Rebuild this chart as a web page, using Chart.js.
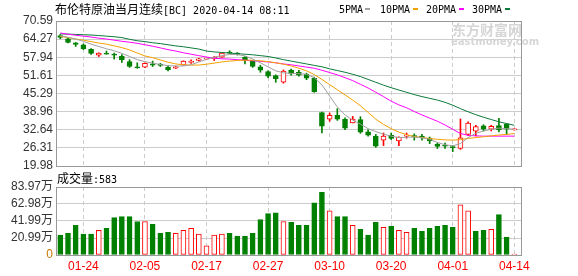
<!DOCTYPE html>
<html>
<head>
<meta charset="utf-8">
<script src="https://cdn.jsdelivr.net/npm/chart.js@4.4.1/dist/chart.umd.min.js"></script>
<style>
body { margin: 0; background: #fff; width: 578px; height: 276px; overflow: hidden; position: relative; font-family: 'Noto Sans CJK SC', sans-serif; }
#price { position: absolute; left: 0; top: 0; }
#volume { position: absolute; left: 0; top: 170px; }
.t { position: absolute; white-space: nowrap; color: #000; font-size: 12px; line-height: 14px; }
.m { font-family: 'DejaVu Sans Mono', monospace; font-size: 10px; }
.lg { position: absolute; top: 8px; width: 5px; height: 2px; }
.wm { position: absolute; white-space: nowrap; color: #d6d6d6; font-weight: bold; }
</style>
</head>
<body>
<canvas id="price" width="578" height="170"></canvas>
<canvas id="volume" width="578" height="106"></canvas>

<div class="t" style="left:55px;top:2px">布伦特原油当月连续<span class="m">[BC] 2020-04-14 08:11</span></div>
<div class="t m" style="left:339px;top:3px">5PMA</div><div class="lg" style="left:365px;background:#a0a0a0"></div>
<div class="t m" style="left:380px;top:3px">10PMA</div><div class="lg" style="left:413px;background:#f5a000"></div>
<div class="t m" style="left:426px;top:3px">20PMA</div><div class="lg" style="left:459px;background:#ff00ff"></div>
<div class="t m" style="left:472px;top:3px">30PMA</div><div class="lg" style="left:505px;background:#0a7a3a"></div>
<div class="wm" style="left:452px;top:21px;font-size:14px;line-height:16px">东方财富网</div>
<div class="wm" style="left:451px;top:37px;font-size:10px;line-height:10px;font-family:'DejaVu Sans',sans-serif">eastmoney.com</div>
<div class="t" style="left:57px;top:171px">成交量<span class="m">:583</span></div>

<script>
// 交易日
const dates = ['01-21','01-22','01-23','01-24','01-27','01-28','01-29','01-30','01-31','02-03',
  '02-04','02-05','02-06','02-07','02-10','02-11','02-12','02-13','02-14','02-17',
  '02-18','02-19','02-20','02-21','02-24','02-25','02-26','02-27','02-28','03-02',
  '03-03','03-04','03-05','03-06','03-09','03-10','03-11','03-12','03-13','03-16',
  '03-17','03-18','03-19','03-20','03-23','03-24','03-25','03-26','03-27','03-30',
  '03-31','04-01','04-02','04-03','04-06','04-07','04-08','04-09','04-13','04-14'];

// K线
const opens = [65.5,64.4,63.0,62.3,60.7,58.7,59.3,58.9,58.3,56.4,
  54.6,54.5,55.6,55.4,54.5,54.1,55.2,56.1,56.8,57.3,
  57.4,58.0,59.6,59.4,58.0,56.5,54.6,52.9,51.5,49.2,
  53.5,52.7,52.0,50.6,38.6,36.3,37.7,36.3,35.0,36.2,
  31.9,30.4,29.0,30.7,28.7,30.4,30.6,30.4,29.7,27.5,
  27.2,26.8,26.1,31.0,32.1,34.0,32.8,34.1,34.6,32.6];
const closes = [64.9,63.1,62.4,60.9,59.3,59.4,59.0,58.7,57.1,54.7,
  54.2,55.8,55.2,55.1,53.6,54.6,56.6,56.6,57.4,57.5,
  57.9,59.4,59.4,58.9,56.8,54.7,53.4,51.3,50.5,53.1,
  52.1,51.7,50.6,45.9,33.9,37.7,36.3,33.2,36.4,31.8,
  30.7,26.9,30.4,29.6,30.1,30.8,30.1,29.9,28.7,26.8,
  26.9,26.3,29.8,35.0,33.7,32.8,33.8,32.7,32.8,32.8];
const highs = [65.9,64.6,63.1,62.6,61.0,59.5,60.1,59.4,58.9,57.1,
  56.0,56.0,56.6,55.8,54.9,54.8,56.7,57.0,57.6,57.7,
  58.2,59.5,60.2,59.6,58.2,56.8,55.1,53.2,51.8,53.5,
  53.8,53.4,52.4,51.0,38.8,38.5,40.0,36.8,37.3,37.2,
  32.6,31.0,31.5,31.5,30.2,31.5,31.2,31.0,30.1,28.0,
  28.0,27.1,36.4,35.4,34.2,34.4,34.2,36.6,34.7,33.0];
const lows = [64.4,62.9,61.7,60.6,58.9,58.2,59.0,57.3,56.1,54.4,
  54.1,54.3,54.7,54.7,53.2,54.0,55.2,55.8,56.6,57.2,
  56.8,57.9,59.3,58.7,55.6,54.4,52.7,50.8,49.2,48.9,
  51.7,51.3,50.1,45.7,31.5,35.6,35.9,32.7,35.0,31.4,
  30.4,26.5,27.1,29.2,27.1,29.7,29.0,29.0,27.8,26.1,
  26.1,25.0,25.8,30.6,30.5,32.2,32.2,31.9,31.0,32.5];

// 均线
const ma5 = [65.5,64.9,64.3,63.5,62.5,61.7,60.9,60.2,59.3,58.2,
  57.1,56.4,55.9,55.4,55.0,54.9,54.9,55.3,56.3,57.2,
  58.0,58.5,58.9,58.9,58.4,57.3,56.0,54.6,53.2,52.5,
  52.3,52.2,52.0,50.8,48.3,44.4,40.6,37.8,36.0,34.6,
  33.0,32.0,31.1,30.4,29.9,30.0,30.1,29.8,29.3,28.2,
  27.4,27.0,27.8,29.9,31.4,32.2,32.8,33.2,33.0,32.8];
const ma10 = [65.2,64.8,64.3,63.9,63.4,62.9,62.5,61.9,61.3,60.5,
  59.4,58.4,57.8,57.0,56.2,55.6,55.3,55.2,55.2,55.5,
  55.9,56.3,56.6,56.8,56.9,56.9,56.7,56.4,56.0,55.5,
  54.9,54.1,53.2,51.9,50.2,48.4,46.6,44.8,43.0,41.0,
  38.7,36.3,34.5,33.0,31.8,30.9,30.3,29.9,29.6,29.3,
  29.1,29.0,29.2,29.6,29.9,30.2,30.5,30.8,31.0,31.3];
const ma20 = [66.4,66.0,65.6,65.3,65.0,64.6,64.3,63.9,63.5,63.2,
  62.8,62.3,61.8,61.2,60.6,60.1,59.5,59.0,58.5,58.0,
  57.6,57.4,57.3,57.1,56.9,56.7,56.5,56.3,56.0,55.6,
  55.3,54.9,54.5,54.1,53.4,52.6,51.8,50.8,49.8,48.5,
  47.2,45.7,44.2,42.6,41.3,40.3,39.0,37.8,36.7,35.6,
  34.3,32.8,31.3,30.7,30.5,30.4,30.4,30.4,30.4,30.4];
const ma30 = [66.1,66.0,65.9,65.8,65.7,65.5,65.3,65.1,64.8,64.2,
  63.7,63.4,63.0,62.7,62.3,61.9,61.6,61.2,60.8,60.1,
  59.8,59.6,59.4,59.2,59.0,58.8,58.5,58.2,57.7,57.1,
  56.6,56.1,55.6,55.1,54.6,53.9,53.3,52.7,52.0,51.2,
  50.2,49.2,48.2,47.3,46.5,45.7,44.9,44.2,43.6,43.0,
  42.2,41.2,40.0,38.9,37.9,37.0,36.2,35.4,34.8,34.2];

// 成交量(万)
const vols = [24.5,26.9,36.6,25.7,25.7,30.5,33.0,46.2,47.4,47.4,
  41.4,41.4,37.8,26.9,28.1,26.9,30.5,33.0,25.7,11.3,
  24.5,25.7,26.9,23.3,23.3,26.9,43.8,51.0,52.2,41.4,
  40.2,36.6,36.6,64.3,77.5,54.6,47.4,47.4,36.6,31.7,
  24.5,40.2,34.2,35.4,30.5,28.1,33.0,29.3,33.0,35.4,
  36.6,34.2,61.9,54.6,29.3,30.5,31.7,49.8,22.1,0.0583];
const volUpDays = [5,11,15,16,17,18,19,20,21,29,35,38,42,44,45,52,53,56,59];

// 刻度
const priceTicks = ['19.98','26.31','32.64','38.96','45.29','51.61','57.94','64.27','70.59'];
const volTicks = [0, 20.99, 41.99, 62.98, 83.97];
const volTickLabels = ['0','20.99万','41.99万','62.98万','83.97万'];
const dateTickIdx = [3, 11, 19, 27, 35, 43, 51, 59];

const RED = '#ff0000', GREEN = '#008000';
Chart.defaults.font.family = "'Liberation Sans', 'Noto Sans CJK SC', sans-serif";
Chart.defaults.font.size = 12;
Chart.defaults.animation = false;

const up = opens.map((o, i) => closes[i] >= o);
const volUp = vols.map((v, i) => volUpDays.includes(i));

// 外框
const framePlugin = {
  id: 'frame',
  afterDraw(chart) {
    const a = chart.chartArea, ctx = chart.ctx;
    ctx.save();
    ctx.strokeStyle = '#999';
    ctx.lineWidth = 1;
    ctx.strokeRect(Math.round(a.left) + 0.5, Math.round(a.top) + 0.5,
      Math.round(a.right - a.left) - 1, Math.round(a.bottom - a.top));
    ctx.restore();
  }
};

function xScale(showLabels) {
  return {
    type: 'linear', min: -0.56, max: 60.0, offset: false, bounds: 'data',
    afterBuildTicks: s => { s.ticks = dateTickIdx.map(v => ({ value: v })); },
    afterFit: s => { s.height = showLabels ? 21 : 0; s.paddingLeft = 0; s.paddingRight = 0; },
    grid: { color: '#cccccc', drawTicks: false, offset: false },
    border: { display: false, dash: [4, 3] },
    ticks: { display: showLabels, color: RED, padding: 4, maxRotation: 0, autoSkip: false,
      callback: v => dates[v] }
  };
}

const pts = arr => arr.map((v, i) => ({ x: i, y: v }));
const maLine = (label, arr, color) => ({
  type: 'line', label, data: pts(arr), borderColor: color, borderWidth: 1,
  pointRadius: 0, tension: 0, order: 1
});

new Chart(document.getElementById('price'), {
  type: 'bar',
  data: {
    datasets: [
      maLine('5PMA', ma5, '#a0a0a0'),
      maLine('10PMA', ma10, '#f5a000'),
      maLine('20PMA', ma20, '#ff00ff'),
      maLine('30PMA', ma30, '#0a7a3a'),
      {
        label: 'body', order: 2, grouped: false,
        data: opens.map((o, i) => ({ x: i, y: [o, closes[i]] })),
        backgroundColor: up.map(u => u ? '#ffffff' : GREEN),
        borderColor: up.map(u => u ? RED : GREEN),
        borderWidth: 1, borderSkipped: false, barThickness: 5, minBarLength: 1
      },
      {
        label: 'wick', order: 3, grouped: false,
        data: lows.map((l, i) => ({ x: i, y: [l, highs[i]] })),
        backgroundColor: up.map(u => u ? RED : GREEN),
        borderWidth: 0, barThickness: 1
      }
    ]
  },
  options: {
    responsive: false,
    layout: { padding: { left: 0, right: 56, top: 21, bottom: 4 } },
    plugins: { legend: { display: false }, tooltip: { enabled: false } },
    scales: {
      x: xScale(false),
      y: {
        min: 19.98, max: 70.59, bounds: 'data',
        afterBuildTicks: s => { s.ticks = priceTicks.map(v => ({ value: parseFloat(v) })); },
        afterFit: s => { s.width = 56; s.paddingTop = 0; s.paddingBottom = 0; },
        grid: { color: '#cccccc', drawTicks: false },
        border: { display: false },
        ticks: { color: '#333', padding: 3, autoSkip: false, callback: v => v.toFixed(2) }
      }
    }
  },
  plugins: [framePlugin]
});

new Chart(document.getElementById('volume'), {
  type: 'bar',
  data: {
    datasets: [{
      label: '成交量', grouped: false,
      data: pts(vols),
      backgroundColor: volUp.map(u => u ? '#ffffff' : GREEN),
      borderColor: volUp.map(u => u ? RED : GREEN),
      borderWidth: 1, borderSkipped: false, barThickness: 5, minBarLength: 1
    }]
  },
  options: {
    responsive: false,
    layout: { padding: { left: 0, right: 56, top: 17, bottom: 0 } },
    plugins: { legend: { display: false }, tooltip: { enabled: false } },
    scales: {
      x: xScale(true),
      y: {
        min: 0, max: 83.97, bounds: 'data',
        afterBuildTicks: s => { s.ticks = volTicks.map(v => ({ value: v })); },
        afterFit: s => { s.width = 56; s.paddingTop = 0; s.paddingBottom = 0; },
        grid: { color: '#cccccc', drawTicks: false },
        border: { display: false },
        ticks: { padding: 3, autoSkip: false, color: c => c.index === 0 ? '#c87800' : '#333',
          callback: (v, i) => volTickLabels[i] }
      }
    }
  },
  plugins: [framePlugin]
});
</script>
</body>
</html>
